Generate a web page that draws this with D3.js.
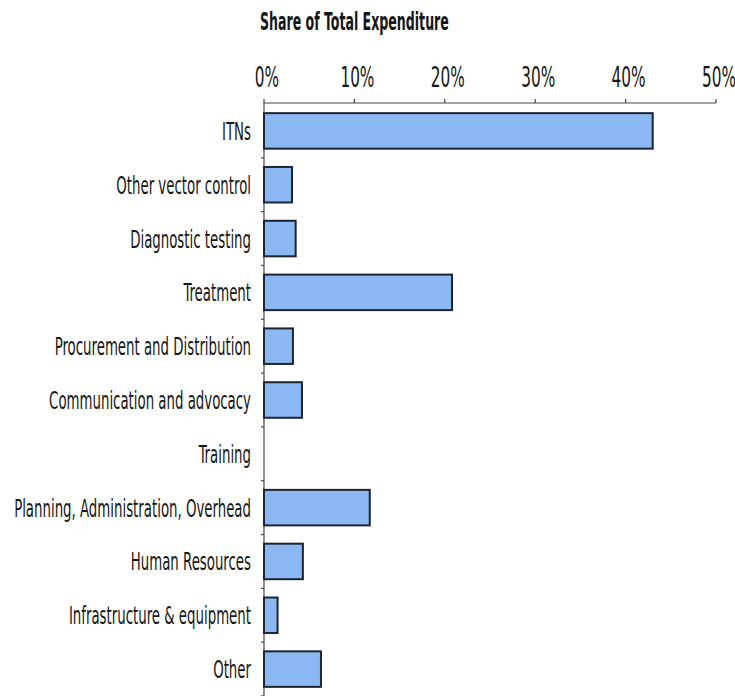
<!DOCTYPE html>
<html>
<head>
<meta charset="utf-8">
<script src="https://cdn.jsdelivr.net/npm/d3@7"></script>
<style>
  html, body { margin: 0; padding: 0; background: #ffffff; }
  svg { display: block; }
  text { font-family: "Liberation Sans Narrow", "DejaVu Sans Condensed", "Roboto", sans-serif; fill: #161616; }
</style>
</head>
<body>
<svg id="chart" width="735" height="696"></svg>
<script>
// Spending categories, top to bottom
const categories = [
  "ITNs",
  "Other vector control",
  "Diagnostic testing",
  "Treatment",
  "Procurement and Distribution",
  "Communication and advocacy",
  "Training",
  "Planning, Administration, Overhead",
  "Human Resources",
  "Infrastructure & equipment",
  "Other"
];

// Share of total expenditure, in percent
const shares = [43.0, 3.1, 3.5, 20.8, 3.2, 4.2, 0, 11.7, 4.3, 1.5, 6.3];

// Axis ticks (percent)
const tickValues = [0, 10, 20, 30, 40, 50];

const titleText = "Share of Total Expenditure";

const svg = d3.select("#chart");

const x = d3.scaleLinear().domain([0, 50]).range([264, 716]);
const y = d3.scaleBand()
  .domain(categories)
  .range([104, 696])
  .paddingInner(0.34)
  .paddingOuter(0.17);

// Squeeze a text element horizontally so it spans the given width
function squeeze(sel, targetWidth) {
  const w = sel.node().getComputedTextLength();
  return w > 0 ? targetWidth / w : 1;
}

// Title
const title = svg.append("text")
  .attr("text-anchor", "start")
  .attr("font-weight", "bold")
  .attr("font-size", 24)
  .text(titleText);
const ts = squeeze(title, 189);
title.attr("transform", `translate(260,30) scale(${ts},1)`);

// Top axis line and ticks
const axisY = 103;
svg.append("line")
  .attr("x1", x(0)).attr("x2", x(50))
  .attr("y1", axisY).attr("y2", axisY)
  .attr("stroke", "#444").attr("stroke-width", 1.2);

svg.selectAll(".xtick")
  .data(tickValues)
  .join("line")
  .attr("class", "xtick")
  .attr("x1", d => x(d)).attr("x2", d => x(d))
  .attr("y1", axisY).attr("y2", axisY - 4)
  .attr("stroke", "#444").attr("stroke-width", 1.2);

const tickLabels = svg.selectAll(".xlabel")
  .data(tickValues)
  .join("text")
  .attr("class", "xlabel")
  .attr("text-anchor", "middle")
  .attr("font-size", 28)
  .text(d => d + "%");
const tickScale = squeeze(tickLabels.filter(d => d === 10), 34);
tickLabels.attr("transform", d => `translate(${x(d) + 3},87) scale(${tickScale},1)`);

// Left axis line with ticks at band boundaries
const step = y.step();
svg.append("line")
  .attr("x1", x(0)).attr("x2", x(0))
  .attr("y1", axisY).attr("y2", 696)
  .attr("stroke", "#444").attr("stroke-width", 1.2);

svg.selectAll(".ytick")
  .data(categories)
  .join("line")
  .attr("class", "ytick")
  .attr("x1", x(0) - 3).attr("x2", x(0))
  .attr("y1", d => y(d) + y.bandwidth() + (step - y.bandwidth()) / 2)
  .attr("y2", d => y(d) + y.bandwidth() + (step - y.bandwidth()) / 2)
  .attr("stroke", "#444").attr("stroke-width", 1.2);

// Bars
svg.selectAll(".bar")
  .data(categories.map((c, i) => ({ c, v: shares[i] })).filter(d => d.v > 0))
  .join("rect")
  .attr("class", "bar")
  .attr("x", x(0))
  .attr("y", d => y(d.c))
  .attr("width", d => x(d.v) - x(0))
  .attr("height", y.bandwidth())
  .attr("fill", "#8bb8f2")
  .attr("stroke", "#1d2330")
  .attr("stroke-width", 2);

// Category labels
const labels = svg.selectAll(".ylabel")
  .data(categories)
  .join("text")
  .attr("class", "ylabel")
  .attr("text-anchor", "end")
  .attr("font-size", 25.5)
  .text(d => d);
const labelScale = squeeze(labels.filter(d => d === "Planning, Administration, Overhead"), 237);
labels.attr("transform", d => `translate(251,${y(d) + y.bandwidth() / 2 + 9}) scale(${labelScale},1)`);
</script>
</body>
</html>
